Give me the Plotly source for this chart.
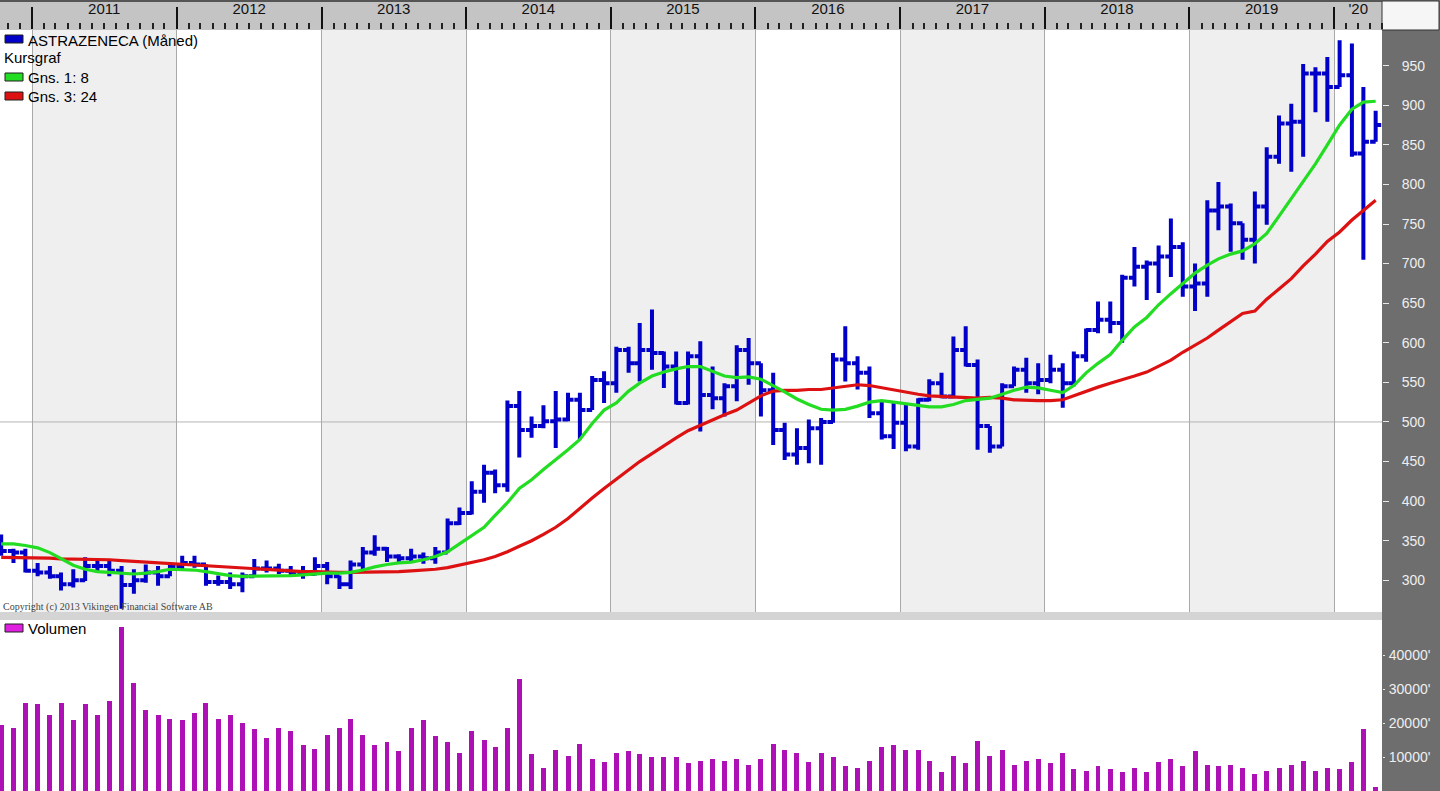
import plotly.graph_objects as go
import pandas as pd

# ---------------- data (monthly, Oct 2010 - Apr 2020) ----------------
months = [d.strftime("%Y-%m-15") for d in pd.date_range("2010-10-01", "2020-04-01", freq="MS")]

open_ = [350, 337, 335,
         312, 310, 305, 295, 300, 318, 318, 312, 294, 300, 310, 305,
         318, 322, 320, 298, 298, 295, 305, 315, 315, 312, 310, 308,
         318, 305, 295, 320, 335, 340, 330, 328, 330, 328, 335, 372,
         385, 412, 436, 420, 520, 490, 495, 501, 503, 528, 515, 553,
         549, 591, 574, 591, 587, 570, 524, 583, 534, 530, 545, 591,
         574, 540, 490, 459, 467, 492, 500, 579, 574, 562, 511, 482,
         499, 469, 528, 549, 532, 591, 572, 495, 469, 545, 566, 549,
         553, 566, 549, 583, 616, 629, 625, 682, 696, 700, 709, 721,
         671, 675, 767, 772, 751, 730, 772, 835, 877, 879, 940, 940,
         923, 938, 839, 854]
high = [358, 340, 340,
        322, 318, 310, 314, 329, 327, 325, 318, 314, 320, 318, 323,
        331, 331, 320, 306, 310, 310, 327, 325, 321, 318, 318, 329,
        323, 306, 325, 342, 357, 342, 333, 340, 335, 342, 378, 392,
        425, 446, 440, 527, 539, 507, 521, 539, 537, 537, 558, 564,
        595, 595, 625, 642, 589, 589, 589, 602, 570, 549, 597, 606,
        574, 562, 499, 492, 503, 505, 587, 621, 583, 570, 526, 526,
        524, 530, 554, 562, 608, 621, 579, 495, 549, 570, 581, 574,
        585, 574, 589, 618, 652, 652, 686, 721, 704, 723, 757, 727,
        700, 780, 803, 776, 751, 791, 847, 887, 902, 952, 948, 961,
        982, 978, 923, 893]
low = [331, 322, 310,
       305, 302, 287, 291, 299, 310, 305, 264, 283, 297, 293, 305,
       314, 316, 293, 293, 289, 285, 305, 310, 308, 306, 302, 306,
       295, 289, 289, 314, 331, 323, 321, 323, 321, 321, 335, 370,
       383, 398, 410, 412, 455, 480, 492, 467, 501, 478, 515, 524,
       537, 562, 551, 566, 543, 522, 522, 488, 516, 507, 526, 547,
       507, 471, 452, 446, 448, 446, 499, 551, 541, 505, 478, 466,
       463, 465, 526, 530, 530, 570, 465, 461, 469, 545, 537, 535,
       549, 518, 545, 576, 612, 612, 600, 671, 654, 663, 683, 658,
       640, 658, 742, 715, 705, 700, 749, 826, 816, 835, 891, 879,
       923, 835, 705, 854]
close = [337, 335, 312,
         310, 305, 295, 300, 318, 318, 312, 294, 300, 310, 305, 318,
         322, 320, 298, 298, 295, 305, 315, 315, 312, 310, 308, 318,
         305, 295, 320, 335, 340, 330, 328, 330, 328, 335, 372, 385,
         412, 436, 420, 520, 490, 495, 501, 503, 528, 515, 553, 549,
         591, 574, 591, 587, 570, 524, 583, 534, 530, 545, 591, 574,
         540, 490, 459, 467, 492, 500, 579, 574, 562, 511, 482, 499,
         469, 528, 549, 532, 591, 572, 495, 469, 545, 566, 549, 553,
         566, 549, 583, 616, 629, 625, 682, 696, 700, 709, 721, 671,
         675, 767, 772, 751, 730, 772, 835, 877, 879, 940, 940, 923,
         938, 839, 854, 875]

ma8 = [346, 346, 344,
       341, 335, 327, 319, 314, 311, 310, 309, 308, 309, 311, 314,
       314, 313, 311, 308, 306, 305, 305, 305, 305, 306, 307, 308,
       309, 309, 310, 313, 317, 320, 322, 323, 326, 330, 336, 346,
       356, 367, 382, 398, 416, 427, 440, 452, 465, 478, 498, 515,
       524, 539, 549, 558, 563, 567, 570, 570, 564, 558, 556, 557,
       554, 546, 538, 529, 522, 516, 515, 516, 520, 525, 527, 525,
       523, 521, 519, 519, 522, 527, 528, 530, 535, 540, 544, 543,
       540, 537, 546, 562, 574, 585, 603, 620, 632, 648, 662, 675,
       688, 698, 706, 712, 716, 725, 738, 760, 782, 803, 826, 850,
       875, 895, 904, 905]
ma24 = [329, 329, 328,
        328, 328, 327, 327, 327, 326, 326, 325, 324, 324, 323, 322,
        321, 320, 319, 318, 317, 316, 315, 314, 313, 312, 311, 311,
        310, 310, 310, 310, 310, 310, 311, 312, 313, 314, 316, 319,
        322, 326, 330, 336, 343, 350, 358, 367, 378, 391, 404, 416,
        428, 440, 450, 460, 470, 480, 489, 496, 503, 509, 515, 524,
        533, 539, 540, 540, 541, 541, 543, 545, 547, 546, 543, 540,
        537, 535, 533, 532, 531, 530, 530, 531, 530, 528, 527, 527,
        527, 528, 533, 539, 544, 549, 553, 558, 563, 570, 578, 588,
        597, 606, 616, 627, 637, 640, 655, 668, 681, 697, 712, 728,
        740, 755, 767, 780]
volume = [19500, 18600, 26000,
          25600, 22500, 26000, 20800, 25600, 22500, 26400, 48200, 31700, 23800, 22500, 21300,
          20800, 22900, 26000, 21300, 22400, 19900, 18100, 15500, 18600, 17700, 13400, 12400,
          16500, 18600, 21300, 16500, 13400, 14300, 11700, 18600, 20800, 16100, 14300, 11300,
          17700, 15100, 12900, 18600, 33000, 10800, 6900, 12100, 10300, 13800, 9500, 8600,
          11300, 11700, 10800, 9900, 9900, 9900, 8200, 8900, 9500, 8900, 9500, 7700,
          9500, 13800, 12100, 11300, 8600, 11300, 9900, 7300, 6900, 8900, 12900, 13400,
          12100, 12100, 8900, 5600, 10400, 8200, 14700, 10400, 12100, 7700, 8900, 9500,
          8200, 11300, 6500, 6000, 7300, 6500, 5600, 6900, 5600, 8600, 9500, 7300,
          11700, 7700, 7300, 7700, 6900, 5100, 6000, 6900, 7700, 8900, 6000, 6900,
          6500, 8600, 18100, 1200]

year_starts = ["2011-01-01", "2012-01-01", "2013-01-01", "2014-01-01", "2015-01-01",
               "2016-01-01", "2017-01-01", "2018-01-01", "2019-01-01", "2020-01-01"]
year_label_pos = ["2011-07-02", "2012-07-02", "2013-07-02", "2014-07-02", "2015-07-02",
                  "2016-07-02", "2017-07-02", "2018-07-02", "2019-07-02", "2020-03-02"]
year_labels = ["2011", "2012", "2013", "2014", "2015", "2016", "2017", "2018", "2019", "'20"]
shaded_years = [("2011-01-01", "2012-01-01"), ("2013-01-01", "2014-01-01"),
                ("2015-01-01", "2016-01-01"), ("2017-01-01", "2018-01-01"),
                ("2019-01-01", "2020-01-01")]
price_ticks = [300, 350, 400, 450, 500, 550, 600, 650, 700, 750, 800, 850, 900, 950]
vol_ticks = [10000, 20000, 30000, 40000]
vol_ticktext = ["10000'", "20000'", "30000'", "40000'"]

for arr in (open_, high, low, close, ma8, ma24, volume):
    assert len(arr) == len(months), len(arr)

# ---------------- geometry ----------------
W, H = 1440, 791
ML, MR, MT, MB = 0, 58, 30, 0
PW, PH = W - ML - MR, H - MT - MB


def py(pix):  # pixel y -> paper y
    return (H - MB - pix) / PH


def px(pix):  # pixel x -> paper x
    return (pix - ML) / PW


price_dom = [py(612), 1.0]
vol_dom = [0.0, py(620)]
x_range = ["2010-10-12", "2020-05-01"]

BLUE = "#0000c8"
GREEN = "#22dd22"
RED = "#dd1111"
PURPLE = "#ad10b5"
FONT = "Liberation Sans, Arial, sans-serif"

fig = go.Figure()

fig.add_trace(go.Ohlc(
    x=months, open=open_, high=high, low=low, close=close,
    increasing=dict(line=dict(color=BLUE, width=4)),
    decreasing=dict(line=dict(color=BLUE, width=4)),
    tickwidth=0.5, showlegend=False, xaxis="x", yaxis="y",
    name="ASTRAZENECA"))
fig.add_trace(go.Scatter(x=months, y=ma24, mode="lines",
                         line=dict(color=RED, width=3.2), showlegend=False,
                         xaxis="x", yaxis="y", name="Gns. 3: 24"))
fig.add_trace(go.Scatter(x=months, y=ma8, mode="lines",
                         line=dict(color=GREEN, width=3.2), showlegend=False,
                         xaxis="x", yaxis="y", name="Gns. 1: 8"))
fig.add_trace(go.Bar(x=months, y=volume, marker=dict(color=PURPLE, line=dict(width=0)),
                     width=12.6 * 86400000, showlegend=False,
                     xaxis="x2", yaxis="y2", name="Volumen"))
# invisible helper trace so the label axis is drawn
fig.add_trace(go.Scatter(x=year_label_pos, y=[None] * len(year_label_pos),
                         xaxis="x3", yaxis="y", showlegend=False, hoverinfo="skip"))

shapes = []
# top time strip
shapes.append(dict(type="rect", xref="paper", yref="paper", x0=0, x1=1,
                   y0=1, y1=py(0), fillcolor="#c4c4c4", line=dict(width=0), layer="below"))
shapes.append(dict(type="line", xref="paper", yref="paper", x0=0, x1=1,
                   y0=py(1), y1=py(1), line=dict(color="#555555", width=2), layer="below"))
# top right corner box
shapes.append(dict(type="rect", xref="paper", yref="paper", x0=1, x1=px(1439),
                   y0=1, y1=py(1), fillcolor="#f6f6f6",
                   line=dict(color="#333333", width=1), layer="below"))
# separator between panels
shapes.append(dict(type="rect", xref="paper", yref="paper", x0=0, x1=1,
                   y0=vol_dom[1], y1=price_dom[0], fillcolor="#d4d4d4",
                   line=dict(width=0), layer="below"))
# alternating year bands
for a, b in shaded_years:
    shapes.append(dict(type="rect", xref="x", yref="paper", x0=a, x1=b,
                       y0=price_dom[0], y1=1, fillcolor="#efefef",
                       line=dict(width=0), layer="below"))
# horizontal guide at 500
shapes.append(dict(type="line", xref="paper", yref="y", x0=0, x1=1, y0=500, y1=500,
                   line=dict(color="#b4b4b4", width=1), layer="below"))

# legend swatches
def swatch(y0pix, y1pix, color):
    return dict(type="rect", xref="paper", yref="paper", x0=px(5), x1=px(23),
                y0=py(y1pix), y1=py(y0pix), fillcolor=color,
                line=dict(color="#202020", width=1))

shapes.append(swatch(35, 43, BLUE))
shapes.append(swatch(73, 81, GREEN))
shapes.append(swatch(92, 100, RED))
shapes.append(swatch(624, 632, "#e020e0"))

annotations = []
def label(text, xpix, ypix, size=15, family=FONT, color="#000000"):
    annotations.append(dict(text=text, xref="paper", yref="paper", x=px(xpix), y=py(ypix),
                            xanchor="left", yanchor="middle", showarrow=False,
                            font=dict(family=family, size=size, color=color)))

label("ASTRAZENECA (Måned)", 26, 40)
label("Kursgraf", 2, 58)
label("Gns. 1: 8", 26, 77)
label("Gns. 3: 24", 26, 96)
label("Volumen", 26, 628)
label("Copyright (c) 2013 Vikingen Financial Software AB", 1, 607, size=10,
      family="Liberation Serif, Times New Roman, serif", color="#444444")

fig.update_layout(
    width=W, height=H,
    margin=dict(l=ML, r=MR, t=MT, b=MB),
    paper_bgcolor="#6e6e6e",
    plot_bgcolor="#ffffff",
    showlegend=False,
    bargap=0,
    shapes=shapes,
    annotations=annotations,
    xaxis=dict(
        type="date", range=x_range, domain=[0, 1], anchor="y", side="top",
        tickmode="array", tickvals=year_starts, showticklabels=False,
        ticks="outside", ticklen=22, tickwidth=2, tickcolor="#111111",
        showgrid=True, gridcolor="#a9a9a9", gridwidth=1,
        minor=dict(ticks="outside", ticklen=6, tickwidth=2, tickcolor="#222222",
                   dtick="M1", tick0="2011-01-01", showgrid=False),
        rangeslider=dict(visible=False), zeroline=False, showline=False,
    ),
    xaxis3=dict(
        type="date", range=x_range, overlaying="x", anchor="y", side="top",
        tickmode="array", tickvals=year_label_pos, ticktext=year_labels,
        ticks="outside", ticklen=9, tickcolor="rgba(0,0,0,0)",
        tickfont=dict(family=FONT, size=15, color="#111111"),
        showgrid=False, zeroline=False, showline=False,
    ),
    yaxis=dict(
        domain=price_dom, anchor="x", side="right", range=[260, 995],
        tickmode="array", tickvals=price_ticks,
        ticks="outside", ticklen=6, tickcolor="#e8e8e8", tickwidth=1,
        ticklabelstandoff=10,
        tickfont=dict(family=FONT, size=14, color="#eeeeee"),
        showgrid=False, zeroline=False, showline=False,
    ),
    xaxis2=dict(
        type="date", range=x_range, matches="x", anchor="y2", domain=[0, 1],
        showticklabels=False, ticks="", showgrid=False, zeroline=False,
    ),
    yaxis2=dict(
        domain=vol_dom, anchor="x2", side="right", range=[0, 50300],
        tickmode="array", tickvals=vol_ticks, ticktext=vol_ticktext,
        ticks="outside", ticklen=2, tickcolor="#e8e8e8",
        ticklabelstandoff=1,
        tickfont=dict(family=FONT, size=14, color="#eeeeee"),
        showgrid=False, zeroline=False, showline=False,
    ),
)

fig.write_html(
    "out.html",
    config={"displayModeBar": False},
    post_script="document.body.style.margin='0px';document.body.style.padding='0px';"
                "document.body.style.overflow='hidden';",
)
